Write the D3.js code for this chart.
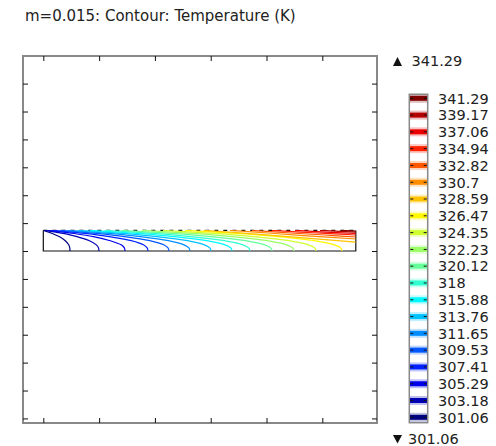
<!DOCTYPE html>
<html>
<head>
<meta charset="utf-8">
<script src="https://cdn.jsdelivr.net/npm/d3@7/dist/d3.min.js"></script>
<style>
  html, body { margin: 0; padding: 0; background: #fff; }
  svg { display: block; font-family: "DejaVu Sans", sans-serif; }
</style>
</head>
<body>
<svg id="chart" width="496" height="446"></svg>
<script>
// ---- data -------------------------------------------------------------
const titleText = "m=0.015: Contour: Temperature (K)";
const tempMin = 301.06;
const tempMax = 341.29;
const levels = [341.29, 339.17, 337.06, 334.94, 332.82, 330.7, 328.59, 326.47,
                324.35, 322.23, 320.12, 318, 315.88, 313.76, 311.65, 309.53,
                307.41, 305.29, 303.18, 301.06];
const xTicks = [0, 0.1, 0.2, 0.3, 0.4, 0.5];
const yTicks = [-0.3, -0.25, -0.2, -0.15, -0.1, -0.05, 0, 0.05, 0.1, 0.15, 0.2, 0.25, 0.3];
// channel geometry (m)
const channelLength = 0.56;
const channelHeight = 0.037;

// isotherms: [level (K), polyline points [x (m), y (m)]]
const isotherms = [
  [301.06, [[0.0004,0.037],[0.0162,0.0315],[0.0284,0.0259],[0.0394,0.0185],[0.0455,0.0111],[0.0474,0.0056],[0.0478,0]]],
  [303.18, [[0.0030,0.037],[0.0353,0.0315],[0.0601,0.0259],[0.0827,0.0185],[0.0951,0.0111],[0.0989,0.0056],[0.0998,0]]],
  [305.29, [[0.0084,0.037],[0.0545,0.0315],[0.0898,0.0259],[0.1200,0.0185],[0.1396,0.0111],[0.1452,0.0056],[0.1464,0]]],
  [307.41, [[0.0174,0.037],[0.0742,0.0315],[0.1178,0.0259],[0.1575,0.0185],[0.1793,0.0111],[0.1861,0.0056],[0.1876,0]]],
  [309.53, [[0.0299,0.037],[0.0952,0.0315],[0.1452,0.0259],[0.1907,0.0185],[0.2157,0.0111],[0.2235,0.0056],[0.2253,0]]],
  [311.65, [[0.0443,0.037],[0.1173,0.0315],[0.1733,0.0259],[0.2242,0.0185],[0.2522,0.0111],[0.2609,0.0056],[0.2629,0]]],
  [313.76, [[0.0622,0.037],[0.1418,0.0315],[0.2028,0.0259],[0.2583,0.0185],[0.2888,0.0111],[0.2984,0.0056],[0.3005,0]]],
  [315.88, [[0.0837,0.037],[0.1687,0.0315],[0.2339,0.0259],[0.2932,0.0185],[0.3257,0.0111],[0.3360,0.0056],[0.3382,0]]],
  [318.00, [[0.1106,0.037],[0.1974,0.0315],[0.2639,0.0259],[0.3244,0.0185],[0.3577,0.0111],[0.3680,0.0056],[0.3704,0]]],
  [320.12, [[0.1411,0.037],[0.2309,0.0315],[0.2997,0.0259],[0.3623,0.0185],[0.3967,0.0111],[0.4075,0.0056],[0.4099,0]]],
  [322.23, [[0.1769,0.037],[0.2679,0.0315],[0.3376,0.0259],[0.4011,0.0185],[0.4360,0.0111],[0.4468,0.0056],[0.4493,0]]],
  [324.35, [[0.2145,0.037],[0.3061,0.0315],[0.3763,0.0259],[0.4402,0.0185],[0.4753,0.0111],[0.4862,0.0056],[0.4887,0]]],
  [326.47, [[0.2539,0.037],[0.3479,0.0315],[0.4199,0.0259],[0.4855,0.0185],[0.5215,0.0111],[0.5328,0.0056],[0.5353,0]]],
  [328.59, [[0.2873,0.037],[0.3884,0.0300],[0.4780,0.0226],[0.5600,0.0161]]],
  [330.70, [[0.3346,0.037],[0.4152,0.0314],[0.4869,0.0263],[0.5600,0.0215]]],
  [332.82, [[0.3740,0.037],[0.4432,0.0323],[0.5048,0.0287],[0.5600,0.0251]]],
  [334.94, [[0.4099,0.037],[0.4600,0.0340],[0.5138,0.0312],[0.5600,0.0287]]],
  [337.06, [[0.4511,0.037],[0.5048,0.0340],[0.5600,0.0314]]],
  [339.17, [[0.4959,0.037],[0.5600,0.0340]]],
  [341.29, [[0.5353,0.037],[0.5600,0.0358]]]
];

// ---- colour map (jet) -------------------------------------------------
function jet(v) {
  const t = (v - tempMin) / (tempMax - tempMin);
  const c = x => Math.round(255 * Math.max(0, Math.min(1, x)));
  return `rgb(${c(1.5 - Math.abs(4 * t - 3))},${c(1.5 - Math.abs(4 * t - 2))},${c(1.5 - Math.abs(4 * t - 1))})`;
}

// ---- layout -----------------------------------------------------------
const svg = d3.select("#chart");
const frame = { left: 23, right: 377, top: 56, bottom: 423 };

const x = d3.scaleLinear().domain([-0.0364, 0.598]).range([frame.left, frame.right]);
const y = d3.scaleLinear().domain([-0.3082, 0.3495]).range([frame.bottom, frame.top]);

// title
svg.append("text")
  .attr("x", 25).attr("y", 21)
  .attr("font-size", 15).attr("fill", "#222")
  .text(titleText);

// plot frame
svg.append("rect")
  .attr("x", frame.left).attr("y", frame.top)
  .attr("width", frame.right - frame.left).attr("height", frame.bottom - frame.top)
  .attr("fill", "none").attr("stroke", "#888").attr("stroke-width", 2);

// inward ticks on all four sides
function styleAxis(g) {
  g.select(".domain").remove();
  g.selectAll(".tick line").attr("stroke", "#111").attr("stroke-width", 1);
  g.selectAll(".tick text").remove();
}
svg.append("g").attr("transform", `translate(0,${frame.bottom})`)
  .call(d3.axisBottom(x).tickValues(xTicks).tickSize(-5).tickFormat("")).call(styleAxis);
svg.append("g").attr("transform", `translate(0,${frame.top})`)
  .call(d3.axisTop(x).tickValues(xTicks).tickSize(-5).tickFormat("")).call(styleAxis);
svg.append("g").attr("transform", `translate(${frame.left},0)`)
  .call(d3.axisLeft(y).tickValues(yTicks).tickSize(-5).tickFormat("")).call(styleAxis);
svg.append("g").attr("transform", `translate(${frame.right},0)`)
  .call(d3.axisRight(y).tickValues(yTicks).tickSize(-5).tickFormat("")).call(styleAxis);

// channel and isotherms
const cx0 = x(0), cx1 = x(channelLength), cy0 = y(0), cy1 = y(channelHeight);
svg.append("defs").append("clipPath").attr("id", "channel")
  .append("rect").attr("x", cx0).attr("y", cy1 - 0.5)
  .attr("width", cx1 - cx0).attr("height", cy0 - cy1 + 0.5);

const line = d3.line().x(d => x(d[0])).y(d => y(d[1])).curve(d3.curveCatmullRom.alpha(0.5));

// channel walls: inlet, outlet and bottom solid, heated top wall dashed
svg.append("path")
  .attr("d", `M${cx0},${cy1}V${cy0}H${cx1}V${cy1}`)
  .attr("fill", "none").attr("stroke", "#111").attr("stroke-width", 1.2);
svg.append("line")
  .attr("x1", cx0).attr("x2", cx1).attr("y1", cy1).attr("y2", cy1)
  .attr("stroke", "#111").attr("stroke-width", 1.4)
  .attr("stroke-dasharray", "4,5");

svg.append("g").attr("clip-path", "url(#channel)")
  .selectAll("path").data(isotherms).join("path")
  .attr("d", d => line(d[1]))
  .attr("fill", "none")
  .attr("stroke", d => jet(d[0]))
  .attr("stroke-width", 1.2);

// ---- colour legend ----------------------------------------------------
const legY = d3.scaleLinear().domain([tempMin, tempMax]).range([417.3, 98.3]);
const bar = { x: 409.3, w: 18.4, top: 94.3, bottom: 422.7 };
const leg = svg.append("g");

leg.selectAll("rect.halo").data(levels).join("rect")
  .attr("class", "halo")
  .attr("x", bar.x).attr("width", bar.w)
  .attr("y", d => legY(d) - 4.5).attr("height", 9)
  .attr("fill", d => jet(d)).attr("opacity", 0.25);
leg.selectAll("rect.band").data(levels).join("rect")
  .attr("class", "band")
  .attr("x", bar.x).attr("width", bar.w)
  .attr("y", d => legY(d) - 2.5).attr("height", 5)
  .attr("fill", d => jet(d));
leg.selectAll("path.mark").data(levels).join("path")
  .attr("class", "mark")
  .attr("d", d => `M${bar.x + 1},${legY(d)}h3M${bar.x + bar.w - 4},${legY(d)}h3`)
  .attr("stroke", "#111").attr("stroke-width", 1);
leg.append("rect")
  .attr("x", bar.x).attr("y", bar.top)
  .attr("width", bar.w).attr("height", bar.bottom - bar.top)
  .attr("fill", "none").attr("stroke", "#888").attr("stroke-width", 1.5);
leg.selectAll("text.lab").data(levels).join("text")
  .attr("class", "lab")
  .attr("x", 438).attr("y", d => legY(d) + 5.3)
  .attr("font-size", 14.5).attr("fill", "#222")
  .text(d => d);

// max / min markers
leg.append("path").attr("d", "M393,66L402,66L397.5,57Z").attr("fill", "#111");
leg.append("text").attr("x", 411.5).attr("y", 66).attr("font-size", 14.5).attr("fill", "#222")
  .text(d3.format(".2f")(tempMax));
leg.append("path").attr("d", "M393,435L402,435L397.5,443.5Z").attr("fill", "#111");
leg.append("text").attr("x", 408).attr("y", 443.5).attr("font-size", 14.5).attr("fill", "#222")
  .text(d3.format(".2f")(tempMin));
</script>
</body>
</html>
